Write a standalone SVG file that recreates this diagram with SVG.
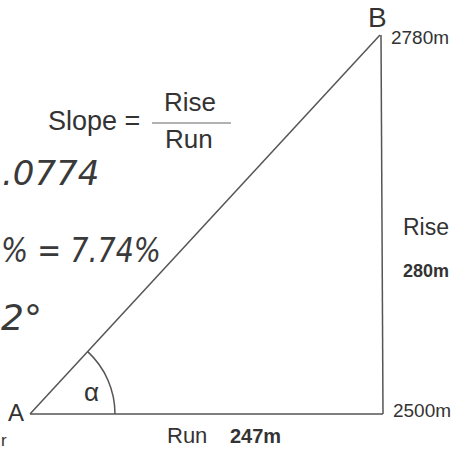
<svg xmlns="http://www.w3.org/2000/svg" width="453" height="451" viewBox="0 0 453 451">
<style>
.t{font-family:"Liberation Sans",Arial,sans-serif;fill:#333}
.h{font-family:"DejaVu Sans","Liberation Sans",sans-serif;font-style:italic;fill:#3a3a3a}
.ln{stroke:#555;stroke-width:1.5;fill:none}
</style>
<rect width="453" height="451" fill="#fff"/>
<g id="connectors">
<line class="ln" x1="30" y1="414" x2="380" y2="35"/>
<line class="ln" x1="30" y1="414" x2="383" y2="414"/>
<line class="ln" x1="381" y1="35" x2="383" y2="414"/>
<path class="ln" d="M115,414 A85,85 0 0 0 87.7,351.6"/>
</g>
<g id="formula">
<text class="t" x="48" y="130" font-size="27">Slope =</text>
<text class="t" x="164" y="111" font-size="26">Rise</text>
<line x1="152" y1="123" x2="231" y2="123" stroke="#999" stroke-width="1.5"/>
<text class="t" x="165" y="148" font-size="26">Run</text>
</g>
<g id="handwriting">
<text class="h" x="2" y="185" font-size="34">.0774</text>
<text class="h" x="1" y="262" font-size="34" textLength="160" lengthAdjust="spacingAndGlyphs">% = 7.74%</text>
<text class="h" x="1" y="330" font-size="36">2°</text>
</g>
<g id="node-A">
<text class="t" x="8" y="421" font-size="24">A</text>
<text class="t" x="84" y="401" font-size="26">α</text>
</g>
<g id="node-B">
<text class="t" x="368" y="27" font-size="28">B</text>
<text class="t" x="391" y="44" font-size="18" textLength="58" lengthAdjust="spacingAndGlyphs">2780m</text>
</g>
<g id="rise">
<text class="t" x="403" y="235" font-size="23">Rise</text>
<text class="t" x="403" y="277" font-size="18" font-weight="bold">280m</text>
<text class="t" x="393" y="417" font-size="18" textLength="58" lengthAdjust="spacingAndGlyphs">2500m</text>
</g>
<g id="run">
<text class="t" x="167" y="443" font-size="22">Run</text>
<text class="t" x="230" y="443" font-size="20" font-weight="bold">247m</text>
<text class="t" x="1" y="446" font-size="17">r</text>
</g>
</svg>
